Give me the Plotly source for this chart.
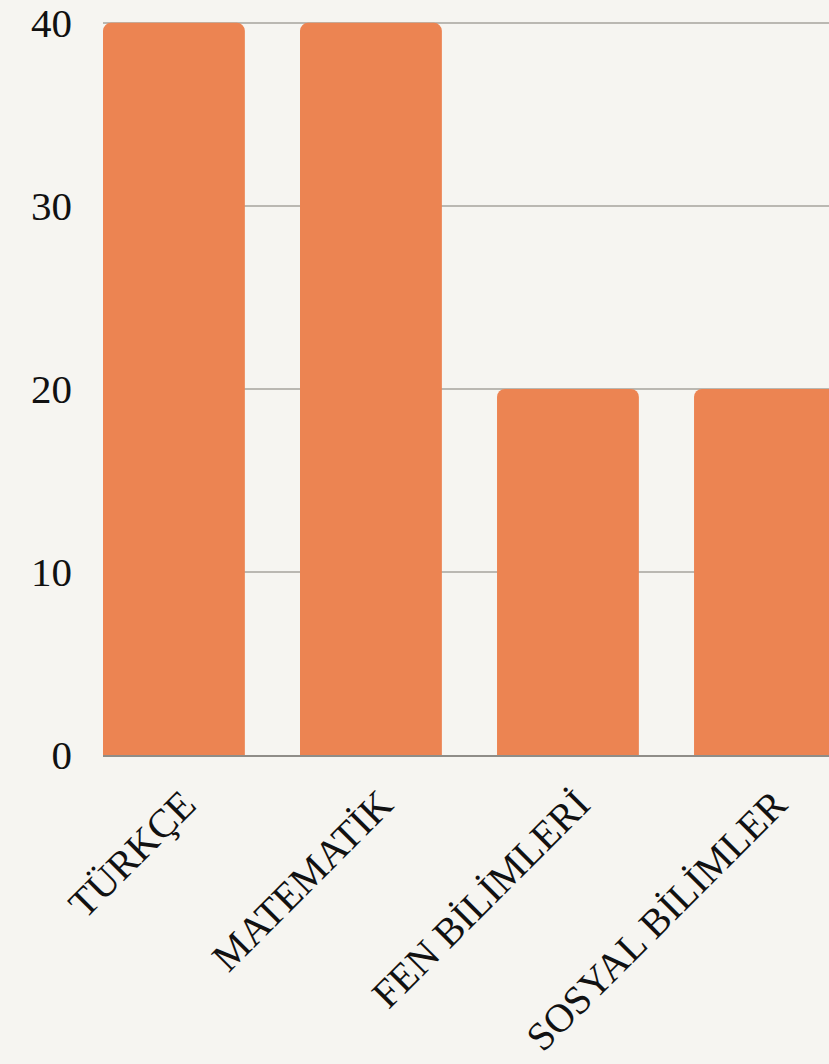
import plotly.graph_objects as go

# Ders bazinda soru sayilari
dersler = ['TÜRKÇE', 'MATEMATİK', 'FEN BİLİMLERİ', 'SOSYAL BİLİMLER']
soru_sayisi = [40, 40, 20, 20]
y_ticks = [0, 10, 20, 30, 40]

bg = '#F6F5F1'

fig = go.Figure()

fig.add_trace(go.Bar(
    x=dersler,
    y=soru_sayisi,
    marker=dict(color='#EC8452', cornerradius=8, line=dict(width=0)),
    hoverinfo='x+y'
))

fig.update_layout(
    width=829,
    height=1064,
    margin=dict(l=103, r=0, t=18, b=309),
    paper_bgcolor=bg,
    plot_bgcolor=bg,
    bargap=0.28,
    showlegend=False,
    font=dict(family='Liberation Serif', color='#111111')
)

fig.update_xaxes(
    range=[-0.36, 3.325],
    tickangle=-45,
    tickfont=dict(size=40),
    showgrid=False,
    showline=True,
    linecolor='#8F8D88',
    linewidth=1.5,
    ticks='',
    ticklabelstandoff=8,
    ticklabelshift=10
)

fig.update_yaxes(
    range=[0, 40.1],
    tickvals=y_ticks,
    tickfont=dict(size=41),
    showgrid=True,
    gridcolor='#BAB8B2',
    gridwidth=1.5,
    zeroline=False,
    ticklabelstandoff=30,
    ticklabeloverflow='allow'
)

# body margin weg, damit die Figur bei 0,0 beginnt
fig.write_html("out.html", config={'displayModeBar': False},
               post_script="document.body.style.margin='0';")
